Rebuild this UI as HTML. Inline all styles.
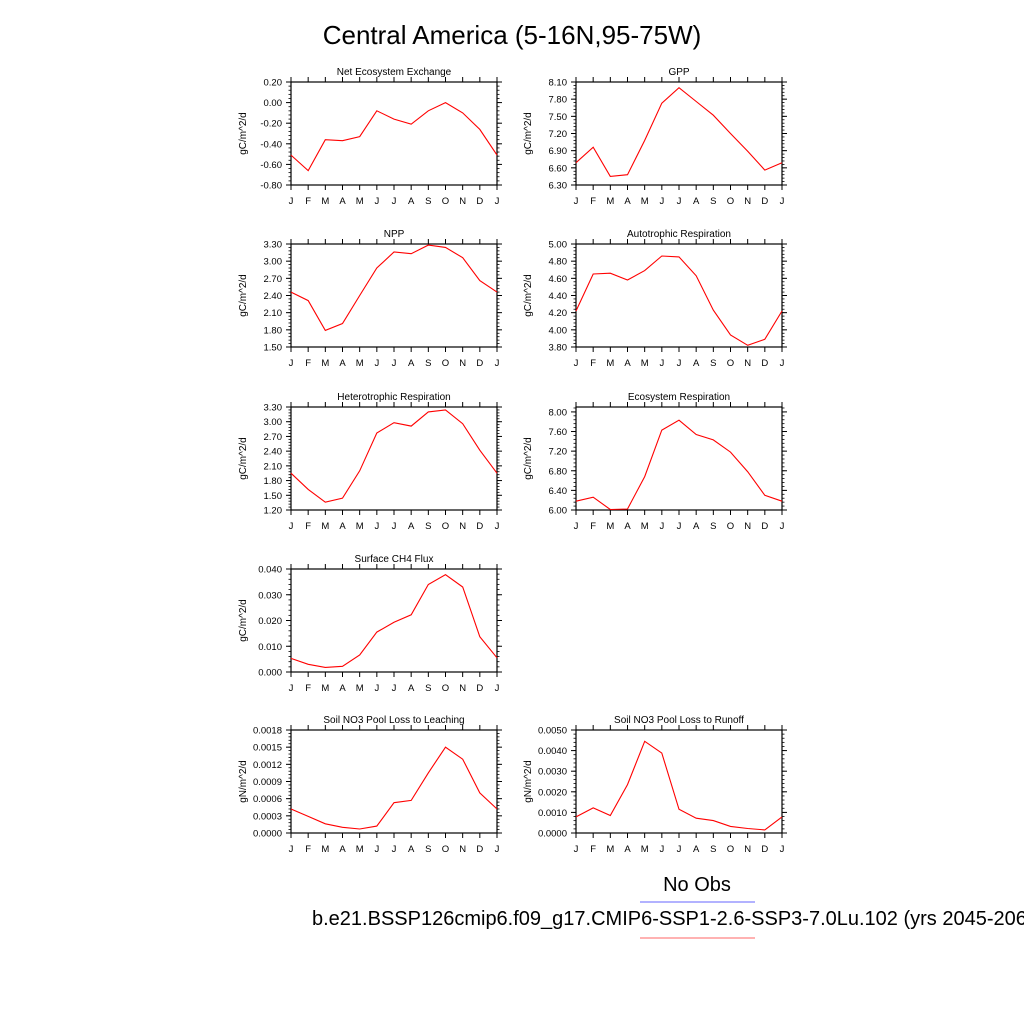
<!DOCTYPE html>
<html><head><meta charset="utf-8"><style>
body{margin:0;background:#fff;width:1024px;height:1024px;overflow:hidden}
svg{font-family:"Liberation Sans",sans-serif}
</style></head><body>
<svg id="s" width="1024" height="1024" viewBox="0 0 1024 1024">
<text x="512" y="44" text-anchor="middle" font-size="26">Central America (5-16N,95-75W)</text>
<text x="697" y="891" text-anchor="middle" font-size="20">No Obs</text>
<line x1="640" y1="902" x2="755" y2="902" stroke="#9999ff" stroke-width="1.5"/>
<text x="312" y="925" font-size="20">b.e21.BSSP126cmip6.f09_g17.CMIP6-SSP1-2.6-SSP3-7.0Lu.102 (yrs 2045-2064)</text>
<line x1="640" y1="938" x2="755" y2="938" stroke="#ff9999" stroke-width="1.5"/>
</svg>
<script>
const months=["J","F","M","A","M","J","J","A","S","O","N","D","J"];
const neeVals=[-0.51,-0.66,-0.36,-0.37,-0.33,-0.08,-0.16,-0.21,-0.08,0.00,-0.10,-0.26,-0.51];
const gppVals=[6.69,6.96,6.45,6.48,7.08,7.73,8.00,7.76,7.52,7.20,6.89,6.56,6.69];
const nppVals=[2.46,2.31,1.79,1.91,2.40,2.88,3.16,3.13,3.28,3.24,3.06,2.66,2.46];
const arVals=[4.22,4.65,4.66,4.58,4.69,4.86,4.85,4.63,4.23,3.94,3.82,3.89,4.22];
const hrVals=[1.95,1.62,1.36,1.44,2.00,2.77,2.98,2.91,3.20,3.24,2.96,2.42,1.95];
const erVals=[6.18,6.26,6.01,6.02,6.68,7.63,7.83,7.54,7.43,7.18,6.78,6.30,6.18];
const ch4Vals=[0.0053,0.0030,0.0018,0.0022,0.0066,0.0155,0.0193,0.0222,0.0340,0.0378,0.0330,0.0137,0.0055];
const leachVals=[0.00042,0.00029,0.00016,0.00010,0.00007,0.00012,0.00053,0.00057,0.00105,0.00150,0.00129,0.00070,0.00042];
const runoffVals=[0.00078,0.00122,0.00085,0.00235,0.00445,0.00388,0.00115,0.00072,0.00060,0.00032,0.00022,0.00015,0.00078];
const neeTicks=[-0.8,-0.6,-0.4,-0.2,0,0.2];
const gppTicks=[6.3,6.6,6.9,7.2,7.5,7.8,8.1];
const nppTicks=[1.5,1.8,2.1,2.4,2.7,3.0,3.3];
const arTicks=[3.8,4.0,4.2,4.4,4.6,4.8,5.0];
const hrTicks=[1.2,1.5,1.8,2.1,2.4,2.7,3.0,3.3];
const erTicks=[6.0,6.4,6.8,7.2,7.6,8.0];
const ch4Ticks=[0,0.01,0.02,0.03,0.04];
const leachTicks=[0,0.0003,0.0006,0.0009,0.0012,0.0015,0.0018];
const runoffTicks=[0,0.001,0.002,0.003,0.004,0.005];
const panels=[
 {n:"nee",t:"Net Ecosystem Exchange",u:"gC/m^2/d",v:neeVals,k:neeTicks,d:2,lo:-0.8,hi:0.2,x:291,y:82},
 {n:"gpp",t:"GPP",u:"gC/m^2/d",v:gppVals,k:gppTicks,d:2,lo:6.3,hi:8.1,x:576,y:82},
 {n:"npp",t:"NPP",u:"gC/m^2/d",v:nppVals,k:nppTicks,d:2,lo:1.5,hi:3.3,x:291,y:244},
 {n:"autotrophic-respiration",t:"Autotrophic Respiration",u:"gC/m^2/d",v:arVals,k:arTicks,d:2,lo:3.8,hi:5.0,x:576,y:244},
 {n:"heterotrophic-respiration",t:"Heterotrophic Respiration",u:"gC/m^2/d",v:hrVals,k:hrTicks,d:2,lo:1.2,hi:3.3,x:291,y:407},
 {n:"ecosystem-respiration",t:"Ecosystem Respiration",u:"gC/m^2/d",v:erVals,k:erTicks,d:2,lo:6.0,hi:8.1,x:576,y:407},
 {n:"surface-ch4-flux",t:"Surface CH4 Flux",u:"gC/m^2/d",v:ch4Vals,k:ch4Ticks,d:3,lo:0,hi:0.04,x:291,y:569},
 {n:"no3-leaching",t:"Soil NO3 Pool Loss to Leaching",u:"gN/m^2/d",v:leachVals,k:leachTicks,d:4,lo:0,hi:0.0018,x:291,y:730},
 {n:"no3-runoff",t:"Soil NO3 Pool Loss to Runoff",u:"gN/m^2/d",v:runoffVals,k:runoffTicks,d:4,lo:0,hi:0.005,x:576,y:730}
];
const W=206,H=103,NS="http://www.w3.org/2000/svg",svg=document.getElementById("s");
function mk(tag,a,parent,txt){const e=document.createElementNS(NS,tag);for(const k in a)e.setAttribute(k,a[k]);if(txt!==undefined)e.textContent=txt;parent.appendChild(e);return e;}
panels.forEach(p=>{
 const g=mk("g",{},svg);
 
 
 const xs=i=>p.x+i*W/12, ys=v=>p.y+H-(v-p.lo)/(p.hi-p.lo)*H;
 const box=mk("rect",{x:p.x,y:p.y,width:W,height:H,fill:"none",stroke:"#000","stroke-width":1.2},g);
 
 
 const tt=mk("text",{x:p.x+W/2,y:p.y-7,"text-anchor":"middle","font-size":10},g,p.t);
 
 
 const ul=mk("text",{transform:`translate(${p.x-45},${p.y+H/2}) rotate(-90)`,"text-anchor":"middle","font-size":10},g,p.u);
 
 
 months.forEach((m,i)=>{
  const x=xs(i);
  mk("line",{x1:x,y1:p.y+H,x2:x,y2:p.y+H+5,stroke:"#000"},g);
  mk("line",{x1:x,y1:p.y,x2:x,y2:p.y-5,stroke:"#000"},g);
  const lt=mk("text",{x:x,y:p.y+H+19,"text-anchor":"middle","font-size":9.5},g,m);
  
  
 });
 const step=p.k[1]-p.k[0];
 for(let v=p.lo;v<=p.hi+1e-12;v+=step/5){
  const y=ys(v);
  mk("line",{x1:p.x,y1:y,x2:p.x-2.5,y2:y,stroke:"#000","stroke-width":0.8},g);
  mk("line",{x1:p.x+W,y1:y,x2:p.x+W+2.5,y2:y,stroke:"#000","stroke-width":0.8},g);
 }
 p.k.forEach(v=>{
  const y=ys(v);
  mk("line",{x1:p.x,y1:y,x2:p.x-5,y2:y,stroke:"#000"},g);
  mk("line",{x1:p.x+W,y1:y,x2:p.x+W+5,y2:y,stroke:"#000"},g);
  const lt=mk("text",{x:p.x-9,y:y+3.5,"text-anchor":"end","font-size":9.5},g,v.toFixed(p.d));
  
  
 });
 const pts=p.v.map((v,i)=>xs(i).toFixed(1)+","+ys(v).toFixed(1)).join(" ");
 const pl=mk("polyline",{points:pts,fill:"none",stroke:"#ff0000","stroke-width":1.1},g);
 
 
});
</script>
</body></html>
